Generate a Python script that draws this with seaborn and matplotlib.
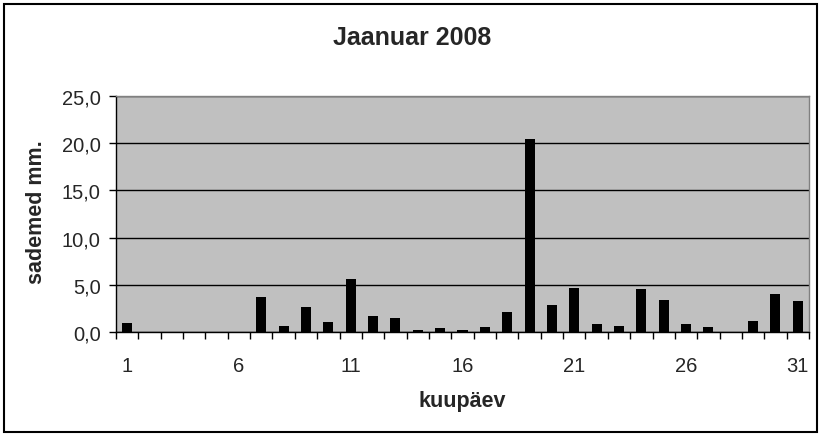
import matplotlib
matplotlib.use("Agg")
import matplotlib.pyplot as plt
import seaborn as sns
import pandas as pd
from matplotlib.patches import Rectangle
from matplotlib.ticker import FuncFormatter

days = list(range(1, 32))
rain_mm = [1.0, 0.0, 0.0, 0.0, 0.0, 0.0, 3.7, 0.6, 2.7, 1.1,
           5.6, 1.7, 1.5, 0.2, 0.4, 0.2, 0.5, 2.1, 20.4, 2.9,
           4.7, 0.9, 0.6, 4.6, 3.4, 0.9, 0.5, 0.0, 1.2, 4.0, 3.3]
shown_days = [1, 6, 11, 16, 21, 26, 31]

df = pd.DataFrame({"kuupaev": [str(d) for d in days], "sademed": rain_mm})

sns.set_style("white")
plt.rcParams["font.family"] = ["Liberation Sans", "DejaVu Sans"]

fig = plt.figure(figsize=(8.25, 4.39), dpi=100)
ax = fig.add_axes([116 / 825, 1 - 333 / 439, (809 - 116) / 825, (333 - 97) / 439])
ax.set_facecolor("#C0C0C0")

sns.barplot(data=df, x="kuupaev", y="sademed", color="black", width=0.45,
            saturation=1, linewidth=0, ax=ax, zorder=3)

ax.set_ylim(0, 25)
ax.set_xlim(-0.5, len(days) - 0.5)
ax.set_yticks([0, 5, 10, 15, 20, 25])
ax.yaxis.set_major_formatter(FuncFormatter(lambda v, p: f"{v:.1f}".replace(".", ",")))
ax.yaxis.grid(True, color="black", linewidth=1.0, zorder=1)
ax.set_axisbelow(True)

# x labels only for every fifth day, ticks at category boundaries
ax.set_xticks([days.index(d) for d in shown_days])
ax.set_xticklabels([str(d) for d in shown_days])
ax.set_xticks([i + 0.5 for i in range(-1, len(days))], minor=True)
ax.tick_params(axis="x", which="major", bottom=True, length=0, pad=17, labelsize=14.5)
ax.tick_params(axis="x", which="minor", bottom=True, length=5, width=1,
               color="black", direction="out")
ax.tick_params(axis="y", left=True, length=5, width=1, color="black",
               direction="out", labelsize=14.5, pad=6)

for side in ["left", "bottom"]:
    ax.spines[side].set_color("black")
    ax.spines[side].set_linewidth(1.0)
for side in ["top", "right"]:
    ax.spines[side].set_color("#808080")
    ax.spines[side].set_linewidth(1.0)

ax.set_xlabel("")
ax.set_ylabel("")
fig.text(462 / 825, 1 - 402 / 439, "kuupäev", ha="center", va="center",
         fontsize=15.5, fontweight="bold")
fig.text(36 / 825, 1 - 212 / 439, "sademed mm.", ha="center", va="center",
         rotation=90, fontsize=15.5, fontweight="bold")
fig.text(412 / 825, 1 - 38 / 439, "Jaanuar 2008", ha="center", va="center",
         fontsize=18, fontweight="bold")

fig.patches.append(Rectangle((4 / 825, 6 / 439), 813 / 825, 428 / 439,
                             transform=fig.transFigure, fill=False,
                             edgecolor="black", linewidth=1.5))

fig.savefig("out.png", dpi=100)
